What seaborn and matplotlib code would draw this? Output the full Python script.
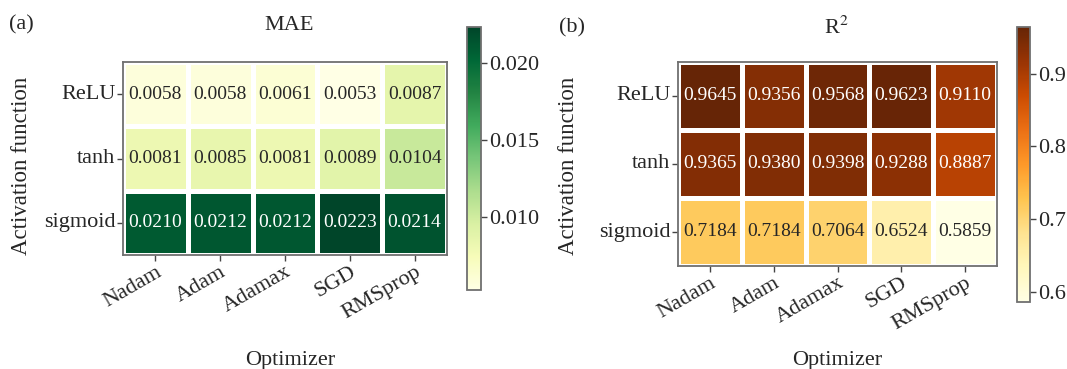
import numpy as np
import pandas as pd
import matplotlib
matplotlib.use("Agg")
import matplotlib.pyplot as plt
import seaborn as sns

sns.set_theme(style="white")
plt.rcParams['font.family'] = ['Liberation Serif', 'DejaVu Serif']
plt.rcParams['mathtext.fontset'] = 'stix'

optimizers = ["Nadam", "Adam", "Adamax", "SGD", "RMSprop"]
activations = ["ReLU", "tanh", "sigmoid"]

mae_relu = [0.0058, 0.0058, 0.0061, 0.0053, 0.0087]
mae_tanh = [0.0081, 0.0085, 0.0081, 0.0089, 0.0104]
mae_sigmoid = [0.0210, 0.0212, 0.0212, 0.0223, 0.0214]

r2_relu = [0.9645, 0.9356, 0.9568, 0.9623, 0.9110]
r2_tanh = [0.9365, 0.9380, 0.9398, 0.9288, 0.8887]
r2_sigmoid = [0.7184, 0.7184, 0.7064, 0.6524, 0.5859]

mae_ticks = [0.010, 0.015, 0.020]
r2_ticks = [0.6, 0.7, 0.8, 0.9]

mae_df = pd.DataFrame([mae_relu, mae_tanh, mae_sigmoid], index=activations, columns=optimizers)
r2_df = pd.DataFrame([r2_relu, r2_tanh, r2_sigmoid], index=activations, columns=optimizers)

W, H = 1067, 369
fig = plt.figure(figsize=(W / 100, H / 100), dpi=100)

def px(l, t, r, b):
    return [l / W, 1 - b / H, (r - l) / W, (b - t) / H]

ax1 = fig.add_axes(px(123, 62, 447, 255))
cax1 = fig.add_axes(px(467, 27, 481, 290))
ax2 = fig.add_axes(px(678, 62, 997, 266))
cax2 = fig.add_axes(px(1017, 27, 1030, 302))

def draw(ax, cax, df, cmap, ticks, fmt):
    sns.heatmap(df, ax=ax, cbar_ax=cax, cmap=cmap, annot=True, fmt=".4f",
                linewidths=2.2, linecolor="white",
                annot_kws={"fontsize": 14})
    for s in ax.spines.values():
        s.set_visible(True)
        s.set_color("#707070")
        s.set_linewidth(1.3)
    ax.tick_params(axis="both", which="both", length=4, width=1, color="#444444",
                   bottom=True, left=True, labelsize=16, pad=1.5)
    ax.set_xticklabels(optimizers, rotation=30, ha="right", rotation_mode="anchor")
    ax.set_yticklabels(activations, rotation=0)
    ax.set_xlabel("")
    ax.set_ylabel("")
    cb = ax.collections[0].colorbar
    cb.set_ticks(ticks)
    cb.ax.yaxis.set_major_formatter(matplotlib.ticker.FormatStrFormatter(fmt))
    cb.ax.tick_params(labelsize=16, length=4, width=1, color="#444444", pad=2)
    cb.outline.set_edgecolor("#707070")
    cb.outline.set_linewidth(1.3)
    cb.outline.set_visible(True)

draw(ax1, cax1, mae_df, "YlGn", mae_ticks, "%.3f")
draw(ax2, cax2, r2_df, "YlOrBr", r2_ticks, "%.1f")

def ftext(x, y, s, **kw):
    fig.text(x / W, 1 - y / H, s, **kw)

ftext(9, 25, "(a)", fontsize=16, ha="left", va="center")
ftext(289, 25, "MAE", fontsize=16, ha="center", va="center")
ftext(559, 28, "(b)", fontsize=16, ha="left", va="center")
ftext(836, 28, "R$^2$", fontsize=16, ha="center", va="center")
ftext(22, 166, "Activation function", fontsize=16.5, rotation=90, ha="center", va="center")
ftext(569, 166, "Activation function", fontsize=16.5, rotation=90, ha="center", va="center")
ftext(290, 360, "Optimizer", fontsize=16, ha="center", va="center")
ftext(837, 360, "Optimizer", fontsize=16, ha="center", va="center")

fig.savefig("out.png", dpi=100, facecolor="white")
